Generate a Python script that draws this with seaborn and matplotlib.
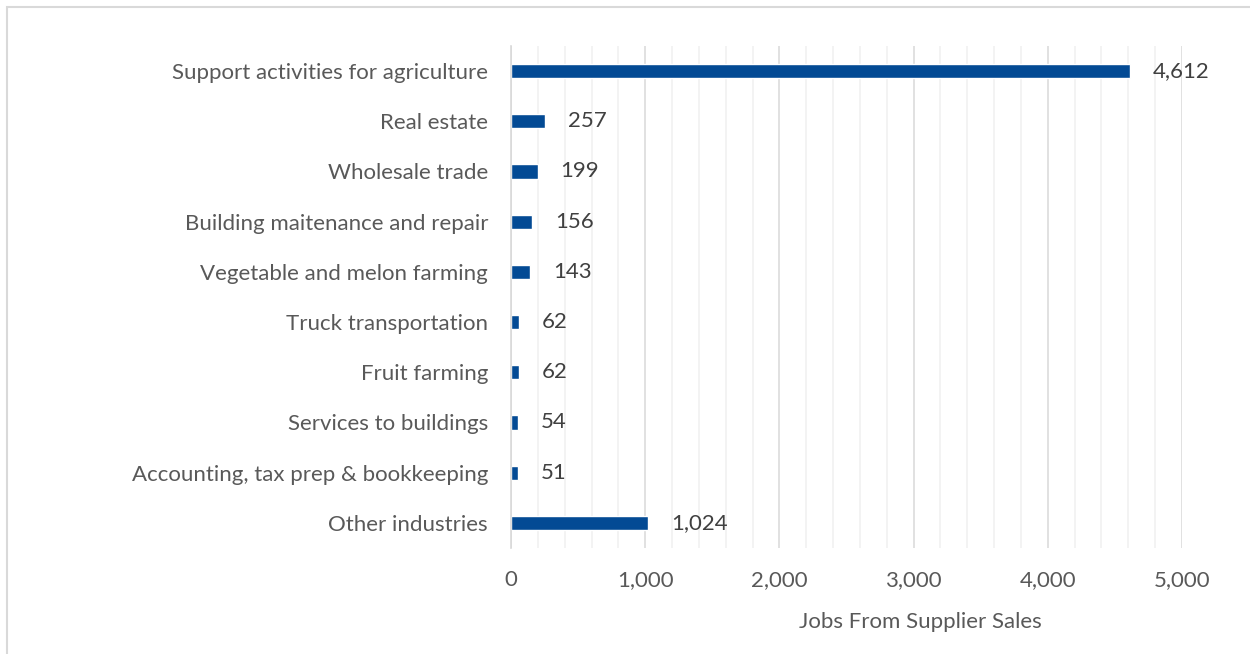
import matplotlib
matplotlib.use("Agg")
import matplotlib.pyplot as plt
import matplotlib.patches as mpatches
from matplotlib.ticker import MultipleLocator, FuncFormatter
import seaborn as sns
import pandas as pd

industries = [
    "Support activities for agriculture",
    "Real estate",
    "Wholesale trade",
    "Building maitenance and repair",
    "Vegetable and melon farming",
    "Truck transportation",
    "Fruit farming",
    "Services to buildings",
    "Accounting, tax prep & bookkeeping",
    "Other industries",
]
jobs = [4612, 257, 199, 156, 143, 62, 62, 54, 51, 1024]
x_title = "Jobs From Supplier Sales"

df = pd.DataFrame({"industry": industries, "jobs": jobs})

sns.set_theme(style="white")
plt.rcParams["font.family"] = ["Lato", "DejaVu Sans"]

fig = plt.figure(figsize=(12.5, 6.54), dpi=100)
ax = fig.add_axes([0.4088, 0.1621, 0.5368, 0.7676])

bar_color = "#034a94"
sns.barplot(data=df, x="jobs", y="industry", orient="h", color=bar_color,
            width=0.28, saturation=1, ax=ax, zorder=3)

ax.set_xlim(0, 5000)
ax.set_ylim(len(industries) - 0.5, -0.5)

# Gridlines: major every 1,000, minor every 200
ax.xaxis.set_major_locator(MultipleLocator(1000))
ax.xaxis.set_minor_locator(MultipleLocator(200))
ax.grid(which="major", axis="x", color="#d9d9d9", lw=1.1, zorder=0)
ax.grid(which="minor", axis="x", color="#f0f0f0", lw=1.1, zorder=0)
ax.grid(axis="y", visible=False)
ax.xaxis.set_major_formatter(FuncFormatter(lambda v, p: f"{int(v):,}"))

fs = 16

# Category separators on the value axis line
ax.set_yticks([i - 0.5 for i in range(len(industries) + 1)], minor=True)
ax.tick_params(axis="y", which="minor", length=6, width=1, color="#d9d9d9", direction="out")
ax.tick_params(axis="y", which="major", length=0, pad=16.5, labelsize=fs, labelcolor="#595959")
ax.tick_params(axis="x", which="both", length=0, pad=16, labelsize=fs, labelcolor="#595959")

for s in ["top", "right", "bottom"]:
    ax.spines[s].set_visible(False)
ax.spines["left"].set_color("#d9d9d9")
ax.spines["left"].set_linewidth(1.2)
ax.spines["left"].set_zorder(4)

ax.set_ylabel("")
ax.set_xlabel(x_title, fontsize=fs, color="#595959")
ax.xaxis.set_label_coords(0.6095, -0.128)

for c in ax.containers:
    ax.bar_label(c, labels=[f"{v:,}" for v in jobs], padding=16.5,
                 fontsize=fs, color="#404040", clip_on=False)

# Chart area border
fig.patches.append(mpatches.Rectangle((6.5 / 1250, -0.1), 1.2, 1 - 6.5 / 654 + 0.1,
                                      transform=fig.transFigure, fill=False,
                                      edgecolor="#d9d9d9", lw=1.5))

fig.savefig("out.png", dpi=100)
